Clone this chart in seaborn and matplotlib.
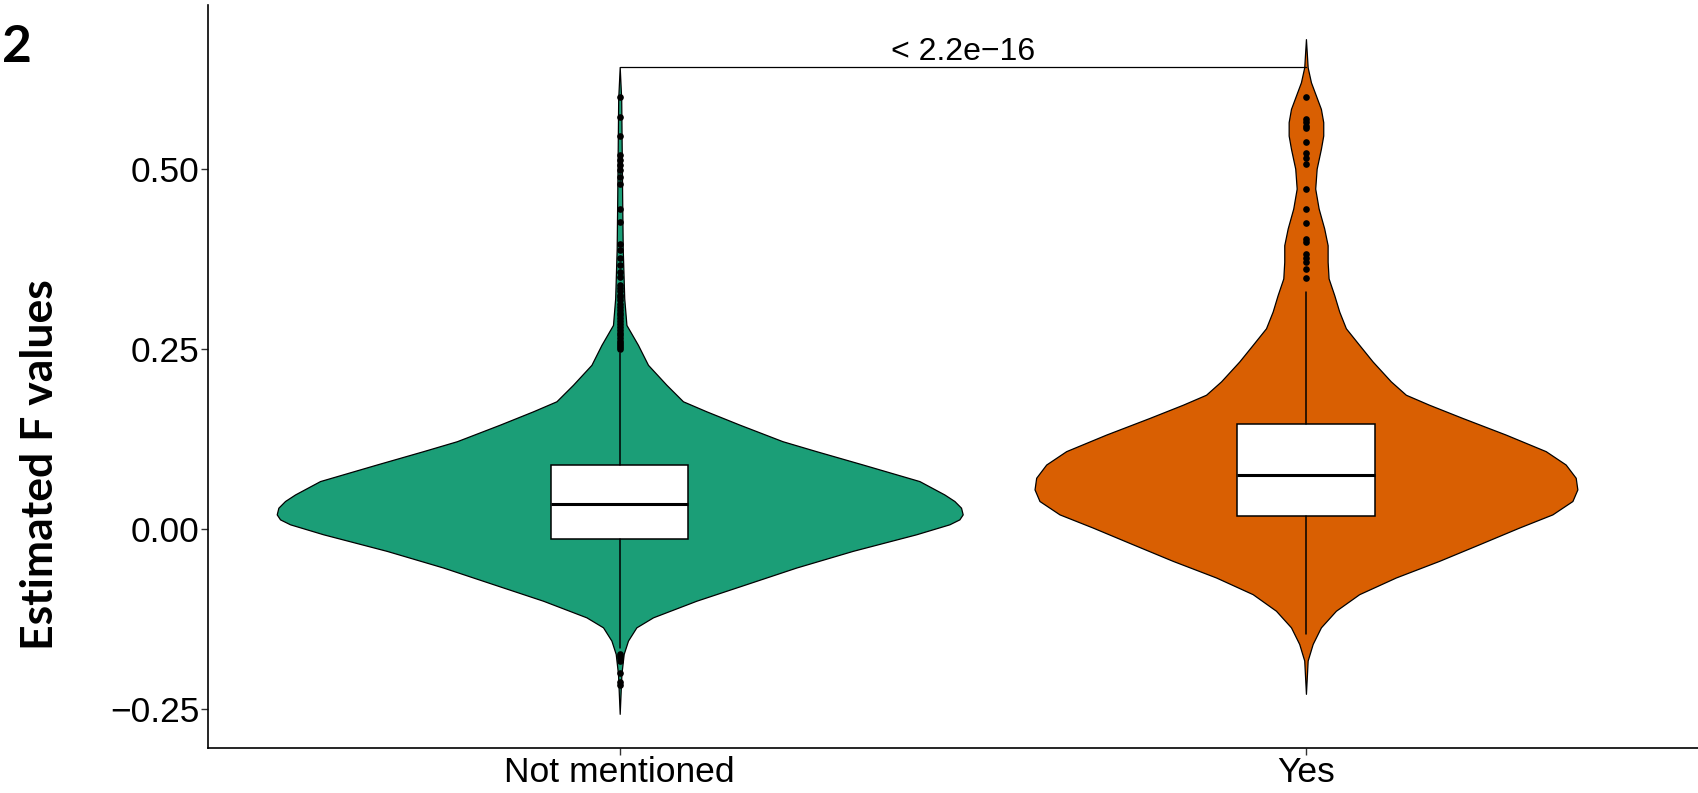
import numpy as np
import seaborn as sns
import matplotlib
matplotlib.use('Agg')
import matplotlib.pyplot as plt

# Categories and colours (Dark2)
groups = ['Not mentioned', 'Yes']
group_colors = ['#1B9E77', '#D95F02']

# Violin outlines: value, half width (in category units)
nm_y = [-0.2567, -0.2012, -0.1735, -0.1549, -0.1365, -0.1226, -0.0995, -0.0765,
        -0.0534, -0.0302, -0.0072, 0.0067, 0.0136, 0.0205, 0.0298, 0.0391,
        0.0482, 0.0668, 0.0898, 0.1084, 0.1222, 0.1452, 0.1638, 0.1777,
        0.2007, 0.2284, 0.2561, 0.2838, 0.3208, 0.3901, 0.4594, 0.5287,
        0.5980, 0.6423]
nm_hw = [0.0, 0.0025, 0.0058, 0.0121, 0.0243, 0.0485, 0.1117, 0.1844,
         0.2572, 0.3396, 0.4319, 0.4804, 0.4950, 0.4998, 0.4974, 0.4877,
         0.4731, 0.4367, 0.3542, 0.2863, 0.2373, 0.1747, 0.1262, 0.0922,
         0.0680, 0.0412, 0.0266, 0.0098, 0.0066, 0.0044, 0.0036, 0.0029,
         0.0022, 0.0]

yes_y = [-0.2289, -0.1826, -0.1596, -0.1365, -0.1134, -0.0904, -0.0672, -0.0441,
         -0.0211, 0.0021, 0.0205, 0.0391, 0.0552, 0.0714, 0.0898, 0.1084,
         0.1314, 0.1545, 0.1729, 0.1868, 0.2054, 0.2331, 0.2561, 0.2792,
         0.3024, 0.3254, 0.3485, 0.3717, 0.3947, 0.4179, 0.4456, 0.4733,
         0.5010, 0.5287, 0.5471, 0.5657, 0.5841, 0.6025, 0.6211, 0.6419,
         0.6811]
yes_hw = [0.0, 0.0025, 0.0098, 0.0218, 0.0437, 0.0776, 0.1310, 0.1941,
          0.2523, 0.3105, 0.3591, 0.3883, 0.3955, 0.3931, 0.3785, 0.3494,
          0.2912, 0.2281, 0.1795, 0.1456, 0.1237, 0.0971, 0.0776, 0.0582,
          0.0485, 0.0412, 0.0330, 0.0316, 0.0316, 0.0266, 0.0185, 0.0135,
          0.0156, 0.0218, 0.0252, 0.0252, 0.0218, 0.0146, 0.0073, 0.0025,
          0.0]

# Box summaries
q1 = [-0.0141, 0.0183]
medians = [0.0344, 0.0759]
q3 = [0.0890, 0.1462]
whisker_low = [-0.165, -0.1458]
whisker_high = [0.245, 0.3301]

# Outlier points
nm_outliers = [0.6003, 0.5726, 0.5471, 0.5194, 0.5125, 0.5055, 0.4986, 0.4895,
               0.4802, 0.4456, 0.4271, 0.3970, 0.3878, 0.3762, 0.3670, 0.3578,
               0.3509, 0.340, 0.335, 0.331, 0.326, 0.322, 0.318, 0.313, 0.309,
               0.305, 0.301, 0.297, 0.293, 0.289, 0.285, 0.281, 0.277, 0.273,
               0.270, 0.266, 0.262, 0.259, 0.256, 0.253, 0.250,
               -0.1735, -0.1765, -0.1795, -0.1826, -0.2003, -0.2127, -0.2173]
yes_outliers = [0.6003, 0.5703, 0.5657, 0.5610, 0.5574, 0.5380, 0.5231, 0.5158,
                0.5079, 0.4733, 0.4456, 0.4257, 0.4026, 0.3994, 0.3818, 0.3772,
                0.3717, 0.3614, 0.3485]

p_label = '< 2.2e\u221216'
p_line_y = 0.6419
y_ticks = [-0.25, 0.0, 0.25, 0.50]
y_tick_labels = ['\u22120.25', '0.00', '0.25', '0.50']

sns.set_style('ticks')
plt.rcParams['font.family'] = ['Liberation Sans', 'DejaVu Sans']
plt.rcParams['text.color'] = 'black'
plt.rcParams['xtick.labelcolor'] = 'black'
plt.rcParams['ytick.labelcolor'] = 'black'

fig = plt.figure(figsize=(16.99, 7.93), dpi=100)
ax = fig.add_axes([0.1224, 0.0573, 0.8886, 0.9359])

# Violins
for pos, (vy, vw, col) in enumerate([(nm_y, nm_hw, group_colors[0]),
                                     (yes_y, yes_hw, group_colors[1])]):
    vy = np.array(vy)
    vw = np.array(vw)
    ax.fill_betweenx(vy, pos - vw, pos + vw, facecolor=col, edgecolor='black',
                     linewidth=0.9, joinstyle='round', zorder=1)

# Boxes
stats = []
for i in range(len(groups)):
    stats.append({'med': medians[i], 'q1': q1[i], 'q3': q3[i],
                  'whislo': whisker_low[i], 'whishi': whisker_high[i], 'fliers': []})
ax.bxp(stats, positions=[0, 1], widths=0.2, showcaps=False, showfliers=False,
       patch_artist=True,
       boxprops=dict(facecolor='white', edgecolor='black', linewidth=1.1),
       medianprops=dict(color='black', linewidth=2.2),
       whiskerprops=dict(color='black', linewidth=1.1),
       zorder=2)

# Outliers
pts_x = [groups[0]] * len(nm_outliers) + [groups[1]] * len(yes_outliers)
pts_y = nm_outliers + yes_outliers
sns.stripplot(x=pts_x, y=pts_y, order=groups, jitter=False, color='black',
              size=4.8, linewidth=0, ax=ax, zorder=3)

# Comparison bracket
ax.plot([0, 1], [p_line_y, p_line_y], color='black', linewidth=0.9, zorder=2)
ax.text(0.5, 0.6524, p_label, ha='center', va='baseline', fontsize=23,
        color='black')

ax.set_xlim(-0.6, 1.6)
ax.set_ylim(-0.3036, 0.728)
ax.set_xticks([0, 1])
ax.set_xticklabels(groups)
ax.set_yticks(y_ticks)
ax.set_yticklabels(y_tick_labels)
ax.tick_params(axis='both', labelsize=25.5, direction='out', length=5,
               width=1, color='#333333', labelcolor='black', pad=1)
ax.set_xlabel('')
ax.set_ylabel('')
for s in ['left', 'bottom']:
    ax.spines[s].set_linewidth(1.2)
    ax.spines[s].set_color('black')
sns.despine(ax=ax)

fig.text(0.0238, 0.4136, 'Estimated F values', rotation=90, ha='center',
         va='center', fontsize=32, fontweight='bold', color='black',
         family=['Lato', 'DejaVu Sans'])
fig.text(0.001, 0.9218, '2', ha='left', va='baseline', fontsize=37,
         fontweight='bold', color='black', family=['Lato', 'DejaVu Sans'])

fig.savefig('out.png', dpi=100)
